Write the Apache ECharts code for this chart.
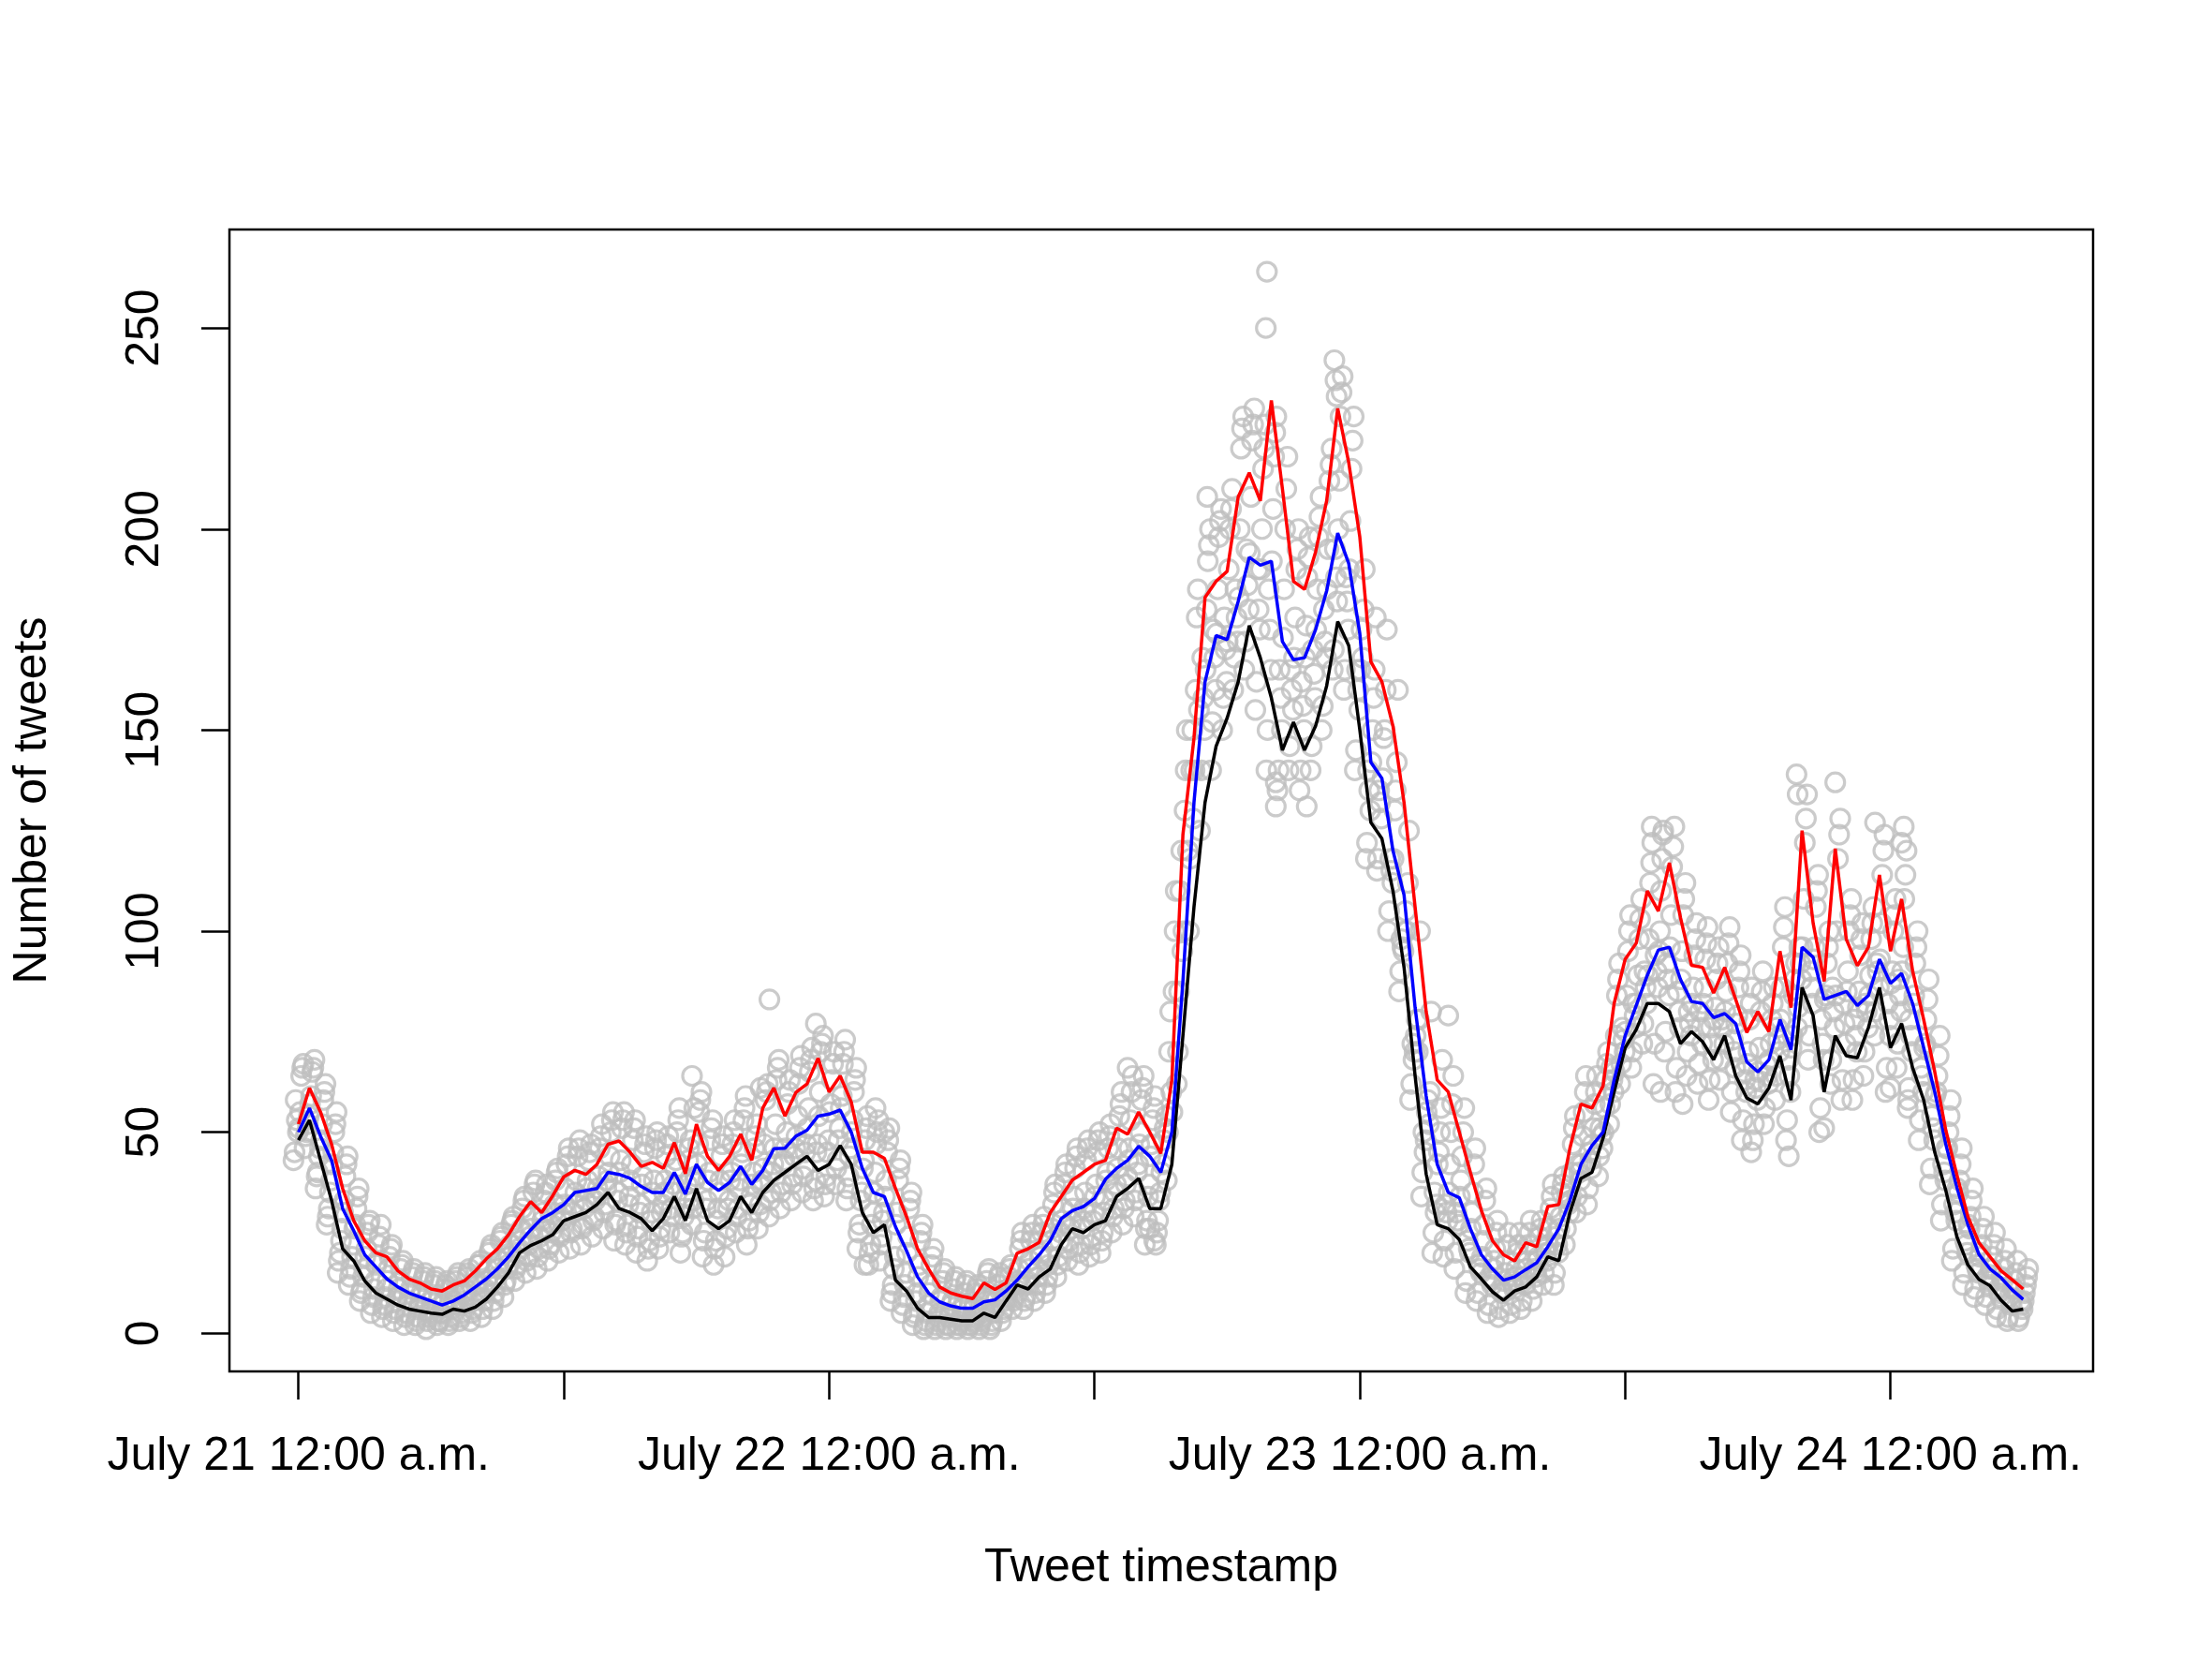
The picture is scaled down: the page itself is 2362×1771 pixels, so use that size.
<!DOCTYPE html>
<html>
<head>
<meta charset="utf-8">
<title>Number of tweets</title>
<script src="https://cdn.jsdelivr.net/npm/echarts@6.0.0/dist/echarts.min.js"></script>
<style>
  html, body { margin: 0; padding: 0; background: #ffffff; }
  #chart { width: 2362px; height: 1771px; }
</style>
</head>
<body>
<div id="chart"></div>
<script>
// hours since July 21 12:00 a.m., one value every half hour (0 .. 78 h)
var stepHours = 0.5;

// fitted lines
var blackLine = [
  48,53,43,33,21,18,13,10,8.5,7,
  6,5.5,5,4.7,6,5.5,6.5,8.5,11.5,15,
  20,21.8,23,24.5,28,29,30,32,35,31,
  30,28.5,25.5,28.5,34,28,36,28,26,28,
  34,30,35,38,40,42,44,40.5,42,46.7,
  42,30,25,27,13.2,10.5,6.2,3.9,3.9,3.5,
  3.1,3.1,5,3.9,8,12,11,14,16,22,
  26,25,27,28,34,36,38.5,31,31,42,
  74,106,132,146,153,162,176,168,158,145,
  152,145,151,161,177,171,150,127,123,110,
  91,64,39.6,27,26,23.3,16.5,13.5,10.3,8.2,
  10.5,11.5,14,19,18,30,38.5,40,48.5,60,
  71,75.5,82,82,80,72,75,72.5,68,74,
  64,58.5,57,61,69,58,86,79,60,74,
  69,68.5,76,86,71,77,66,58,45,35.5,
  24,17,13.4,11.8,8.2,5.5,6
];
var blueLine = [
  50,56,49,43,31,25.5,19.5,16.5,13.5,11.5,
  10,9,8,7,8,9.5,11.5,13.5,16,19,
  22.5,25.7,28.5,30,32,35,35.5,36,40,39.5,
  38.5,36.5,35,35,40,34.6,42,37.5,35.5,37.5,
  41.5,37,40.5,45.9,46,49,50.5,54,54.5,55.5,
  50,41,35,34,26.5,20.5,14,10,7.8,6.8,
  6.2,6.2,7.8,8.3,10.5,13.2,16.5,19.5,23,28.5,
  30.5,31.5,33.5,38.3,41,43,46.5,44,40,50,
  87.5,132,162,173.5,172.5,182,193,191,192,172,
  167.5,168,175,184.6,199,191.4,174,142,138,120,
  109,81,59,42,35,33.7,26,19.5,16,13.2,
  14,15.8,17.5,21.5,26,33,42,46.7,50,63,
  74,81.5,89,95.3,96,88,82.5,82,78.5,79.5,
  77,67.5,65,68,78,70.5,96,93.5,83,84,
  85,81.5,84,93,87,89.5,82,71,60,47,
  36.3,27,19.6,16,13.8,10.8,8.4
];
var redLine = [
  52,61,55,47,36,28,23,20,19,15.5,
  13.5,12.5,11,10.5,12,13,15.5,18.5,21,24.5,
  29,32.7,30,34.2,38.9,40.5,39.5,42,47,47.8,
  45,41.5,42.5,41,47.4,39.7,52,44,40.5,44,
  49.5,43,56,61,54,59.9,62,68.4,60,64,
  57.5,45,45,43.5,36,29,21,16,11.5,10,
  9.2,8.6,12.5,10.9,12.5,19.9,21,22.6,30,34,
  38.1,40,42,43,51,49.5,55,50,44.7,63,
  124,148,183,187,189.5,208,214,207,232,210,
  187,185,194.3,207,230,216.5,198,167,162,151,
  132,106,80,63,60,50,40,30.5,23,19.5,
  18,22.5,21.5,31.5,32,46,57,56,61.5,82,
  93,97,110,105,117,103.4,91.5,91,84.6,91,
  83,74.8,80,75,95,81,125,102,87.5,120.5,
  98,91.4,96,114,95,108,90.1,78,65,50.5,
  39.4,29,22.5,19,15.5,13.3,11
];

// observed counts, ten readings per half hour (3 minutes apart)
var grayMinutes = [-13.5, -10.5, -7.5, -4.5, -1.5, 1.5, 4.5, 7.5, 10.5, 13.5];
var grayA = [
  43,46,36,27,15,12,8,5,4,3,
  2,2,1,2,2,3,3,4,6,9,
  13,15,16,18,20,21,22,24,26,23,
  22,20,18,21,25,20,27,19,17,19,
  25,22,26,29,31,33,35,33,34,37,
  33,21,17,18,8,5,2,1,1,1,
  1,1,1,1,3,6,6,8,10,14,
  18,17,19,20,25,27,29,22,22,38,
  70,100,125,140,150,160,165,155,140,135,
  140,135,140,150,165,160,140,118,115,100,
  85,58,34,20,19,16,10,8,5,4,
  5,6,8,12,12,22,30,32,39,52,
  62,66,72,62,70,60,64,62,58,63,
  55,48,48,52,58,48,76,68,50,62,
  58,58,64,74,60,66,56,48,37,28,
  18,12,9,7,4,3,3
];
var grayB = [
  45,49,39,29,18,14,10,7,6,5,
  4,3,3,3,3,4,5,6,8,12,
  16,18,19,21,24,25,26,28,30,27,
  25,24,21,24,29,24,31,23,21,24,
  29,26,30,33,35,37,39,36,37,41,
  36,25,20,22,10,7,4,2,2,2,
  2,2,2,2,5,8,8,10,12,17,
  21,20,22,23,29,31,33,26,25,50,
  85,118,140,152,158,168,172,162,150,140,
  146,140,146,156,170,165,145,122,118,105,
  90,62,40,25,23,20,13,10,7,6,
  7,8,11,15,15,26,34,36,44,57,
  67,70,77,72,75,66,70,67,63,68,
  60,53,52,56,64,53,81,74,56,68,
  63,63,70,80,66,72,61,53,41,32,
  21,15,11,9,6,4,4
];
var grayC = [
  58,50,40,31,20,16,11,9,7,6,
  5,4,4,3,4,5,6,8,10,13,
  17,19,21,22,25,26,27,29,32,28,
  27,26,23,26,31,25,33,25,23,26,
  31,28,32,35,37,39,41,38,39,43,
  39,27,22,24,12,9,5,3,3,2,
  2,2,3,3,6,9,9,12,14,19,
  23,22,24,25,31,33,35,28,28,70,
  110,140,168,175,178,185,195,190,185,165,
  165,162,170,180,195,188,165,140,135,118,
  98,72,50,35,32,30,23,17,14,11,
  13,14,16,21,24,34,42,45,51,66,
  76,82,90,94,92,85,80,80,76,78,
  73,65,63,67,76,68,96,90,78,86,
  82,78,82,92,82,88,78,66,54,42,
  32,23,17,14,11,9,8
];
var grayD = [
  53,52,44,35,23,19,14,11,9,8,
  7,6,5,5,6,7,8,10,12,16,
  20,22,24,25,28,30,31,33,36,33,
  32,30,28,30,35,29,38,31,28,31,
  36,32,37,40,42,44,45,45,45,48,
  44,33,27,28,16,12,8,5,4,4,
  3,3,4,5,8,11,12,14,17,23,
  26,26,28,30,35,37,40,34,33,80,
  120,150,158,168,170,178,186,180,175,158,
  160,156,164,172,188,182,160,135,132,115,
  96,68,45,30,30,28,21,16,13,10,
  12,13,15,20,22,32,40,43,49,63,
  73,79,86,90,88,80,77,76,72,76,
  70,63,61,64,73,64,92,86,72,80,
  77,74,80,90,78,84,74,64,51,40,
  30,22,16,13,10,8,7
];
var grayE = [
  50,54,46,38,26,22,16,13,11,9,
  8,7,6,5,7,8,9,11,14,17,
  21,24,26,27,30,32,33,34,38,35,
  34,32,30,32,37,31,39,33,31,33,
  38,34,38,42,43,46,47,47,48,51,
  46,35,30,30,19,15,10,7,5,5,
  4,4,6,6,9,12,13,16,19,25,
  28,28,30,33,37,39,42,37,35,60,
  95,128,150,160,162,172,180,175,165,150,
  155,150,158,168,182,175,155,130,128,112,
  95,70,48,32,28,27,20,15,12,10,
  11,12,14,18,20,30,38,41,46,60,
  70,76,82,86,84,76,74,72,68,72,
  66,60,58,62,70,60,88,82,68,76,
  72,70,76,86,74,80,70,60,48,38,
  28,20,15,12,9,7,6
];
var grayF = [
  51,57,48,42,30,26,19,17,13,11,
  10,9,8,7,8,10,12,13,16,19,
  23,26,28,30,32,35,36,36,40,40,
  38,37,35,35,41,34,42,38,35,38,
  42,37,41,46,46,49,51,54,55,56,
  50,41,35,34,27,20,14,10,8,7,
  6,6,8,8,10,13,16,19,23,28,
  31,31,34,38,41,43,47,44,40,55,
  100,140,165,174,172,183,194,190,192,173,
  168,168,175,185,200,190,165,142,138,118,
  100,74,55,42,35,34,26,19,16,13,
  14,16,18,22,26,33,42,47,50,65,
  75,82,89,95,96,88,82,82,78,80,
  77,67,65,68,78,71,96,93,83,84,
  85,81,84,93,87,90,82,71,59,46,
  36,27,19,16,14,11,8
];
var grayG = [
  55,59,52,45,33,27,21,18,16,13,
  11,10,9,8,10,11,13,16,18,22,
  26,29,30,32,36,38,38,39,44,43,
  42,39,38,38,43,37,47,40,38,40,
  45,40,47,52,50,54,56,60,57,59,
  53,43,40,38,30,24,17,12,9,8,
  7,7,9,9,11,16,18,20,26,31,
  34,35,37,40,46,46,50,47,42,85,
  130,160,180,185,190,200,208,200,205,185,
  178,176,185,195,212,202,175,150,148,130,
  105,78,58,45,42,38,30,23,18,15,
  16,18,19,26,29,40,49,51,56,74,
  84,89,98,100,104,95,86,86,81,85,
  79,70,71,72,86,74,108,96,84,100,
  90,85,89,102,90,96,84,72,60,46,
  35,26,20,16,13,11,10
];
var grayH = [
  64,65,58,50,39,31,25,22,19,16,
  14,13,12,11,13,14,17,20,23,27,
  31,35,33,38,42,44,43,46,50,51,
  48,45,46,44,50,43,55,48,44,47,
  53,46,58,63,57,62,65,70,63,67,
  60,48,47,45,38,31,23,17,13,11,
  10,10,13,12,14,21,23,25,32,37,
  41,43,45,46,54,53,58,53,48,100,
  140,178,192,198,200,220,222,215,218,200,
  190,188,198,212,228,215,168,158,150,135,
  100,70,52,50,50,44,35,27,21,18,
  20,22,24,31,35,47,55,57,63,84,
  95,98,112,110,116,104,94,93,88,92,
  86,78,80,78,96,84,122,106,92,118,
  100,94,98,114,100,108,92,78,64,50,
  38,29,22,19,16,13,12
];
var grayI = [
  66,66,60,52,42,34,27,24,21,17,
  15,14,13,12,14,15,17,21,24,28,
  33,37,35,40,44,46,45,49,53,53,
  51,47,48,47,53,46,58,51,47,50,
  56,49,60,66,60,66,68,72,67,70,
  63,51,50,48,41,33,25,19,15,13,
  12,11,15,14,16,23,25,27,35,40,
  44,46,48,49,57,60,61,56,51,110,
  150,185,196,202,205,225,226,220,224,210,
  195,193,203,216,234,222,180,165,160,142,
  112,78,60,56,57,50,42,33,25,22,
  22,25,26,34,37,51,60,60,67,88,
  100,103,117,118,121,108,98,97,92,97,
  90,82,85,82,101,88,128,110,96,124,
  104,98,102,120,104,114,96,83,69,54,
  42,33,26,22,18,15,14
];
var grayJ = [
  67,68,62,55,44,36,28,27,22,18,
  16,15,14,13,15,16,18,22,25,29,
  34,38,37,41,46,48,47,52,55,55,
  53,49,50,49,56,48,60,53,49,53,
  59,52,62,68,63,69,71,74,70,73,
  66,54,53,51,43,35,27,21,16,14,
  13,12,16,15,17,25,27,29,37,42,
  46,48,50,52,60,64,64,59,54,62,
  120,155,200,205,210,228,230,226,228,218,
  200,198,208,220,238,228,190,178,175,160,
  125,100,80,68,64,56,46,36,28,25,
  25,28,28,37,39,54,64,64,70,92,
  104,108,122,125,126,112,102,101,96,101,
  94,86,90,86,106,92,134,114,100,128,
  108,102,106,124,108,120,100,88,74,58,
  46,36,29,25,21,18,16
];
// isolated counts [hour, tweets]
var grayOutliers = [
  [17.8,64],[17.9,56],[20.9,61],[21.3,83],[23.4,77],[25.6,17],[26.1,56],[26.5,50],
  [37.5,66],[38.5,26],[38.7,23],[41.1,208],[43.75,250],[43.8,264],[44.2,131],[44.2,137],
  [45.6,131],[46.85,242],[46.9,237],[46.95,233],[52.0,79],[61.2,126],[61.6,60],[61.7,124],
  [62.6,57],[65.7,45],[67.4,44],[67.75,139],[67.8,134],[69.0,51],[69.5,137],[71.3,127],
  [72.0,61],[72.5,122],[72.6,126],[72.8,58]
];

// axis ticks
var xTickHours = [0, 12, 24, 36, 48, 60, 72];
var xLabelHours = [0, 24, 48, 72];
var xLabelTexts = ['July 21 12:00 a.m.', 'July 22 12:00 a.m.', 'July 23 12:00 a.m.', 'July 24 12:00 a.m.'];
var yTicks = [0, 50, 100, 150, 200, 250];

var font = '"Liberation Sans", Arial, sans-serif';

function linePoints(values) {
  return values.map(function (v, i) { return [i * stepHours, v]; });
}

var grayPoints = [];
[grayA, grayB, grayC, grayD, grayE, grayF, grayG, grayH, grayI, grayJ].forEach(function (run, k) {
  var shift = grayMinutes[k] / 60;
  run.forEach(function (v, i) { grayPoints.push([i * stepHours + shift, v]); });
});
grayOutliers.forEach(function (p) { grayPoints.push(p); });

var chart = echarts.init(document.getElementById('chart'));

var option = {
  animation: false,
  backgroundColor: '#ffffff',
  grid: {
    left: 245, top: 245, right: 127, bottom: 307,
    show: true, borderColor: '#000000', borderWidth: 2.5,
    outerBoundsMode: 'none'
  },
  xAxis: {
    type: 'value',
    min: -3.12,
    max: 81.16,
    axisLine: { show: false, onZero: false },
    axisTick: {
      show: true, length: 30, customValues: xTickHours,
      lineStyle: { color: '#000000', width: 2.5 }
    },
    axisLabel: {
      customValues: xLabelHours,
      formatter: function (v) {
        var idx = xLabelHours.indexOf(v);
        return idx >= 0 ? xLabelTexts[idx] : '';
      },
      margin: 66, fontSize: 50, lineHeight: 50, color: '#000000', fontFamily: font
    },
    splitLine: { show: false },
    name: 'Tweet timestamp',
    nameLocation: 'middle',
    nameGap: 185,
    nameTextStyle: { fontSize: 50, lineHeight: 50, color: '#000000', fontFamily: font }
  },
  yAxis: {
    type: 'value',
    min: -9.5,
    max: 274.5,
    axisLine: { show: false, onZero: false },
    axisTick: {
      show: true, length: 30, customValues: yTicks,
      lineStyle: { color: '#000000', width: 2.5 }
    },
    axisLabel: {
      customValues: yTicks,
      rotate: 90,
      margin: 65, fontSize: 50, lineHeight: 50, color: '#000000', fontFamily: font
    },
    splitLine: { show: false },
    name: 'Number of tweets',
    nameLocation: 'middle',
    nameGap: 185,
    nameRotate: 90,
    nameTextStyle: { fontSize: 50, lineHeight: 50, color: '#000000', fontFamily: font }
  },
  series: [
    {
      type: 'scatter',
      data: grayPoints,
      symbol: 'circle',
      symbolSize: 20,
      large: false,
      silent: true,
      itemStyle: { color: 'rgba(255,255,255,0)', borderColor: '#BEBEBE', borderWidth: 3.2 }
    },
    {
      type: 'line', data: linePoints(blackLine), showSymbol: false, symbol: 'none', silent: true,
      lineStyle: { color: '#000000', width: 3.5 }
    },
    {
      type: 'line', data: linePoints(blueLine), showSymbol: false, symbol: 'none', silent: true,
      lineStyle: { color: '#0000FF', width: 3.5 }
    },
    {
      type: 'line', data: linePoints(redLine), showSymbol: false, symbol: 'none', silent: true,
      lineStyle: { color: '#FF0000', width: 3.5 }
    }
  ]
};

chart.setOption(option);
</script>
</body>
</html>
